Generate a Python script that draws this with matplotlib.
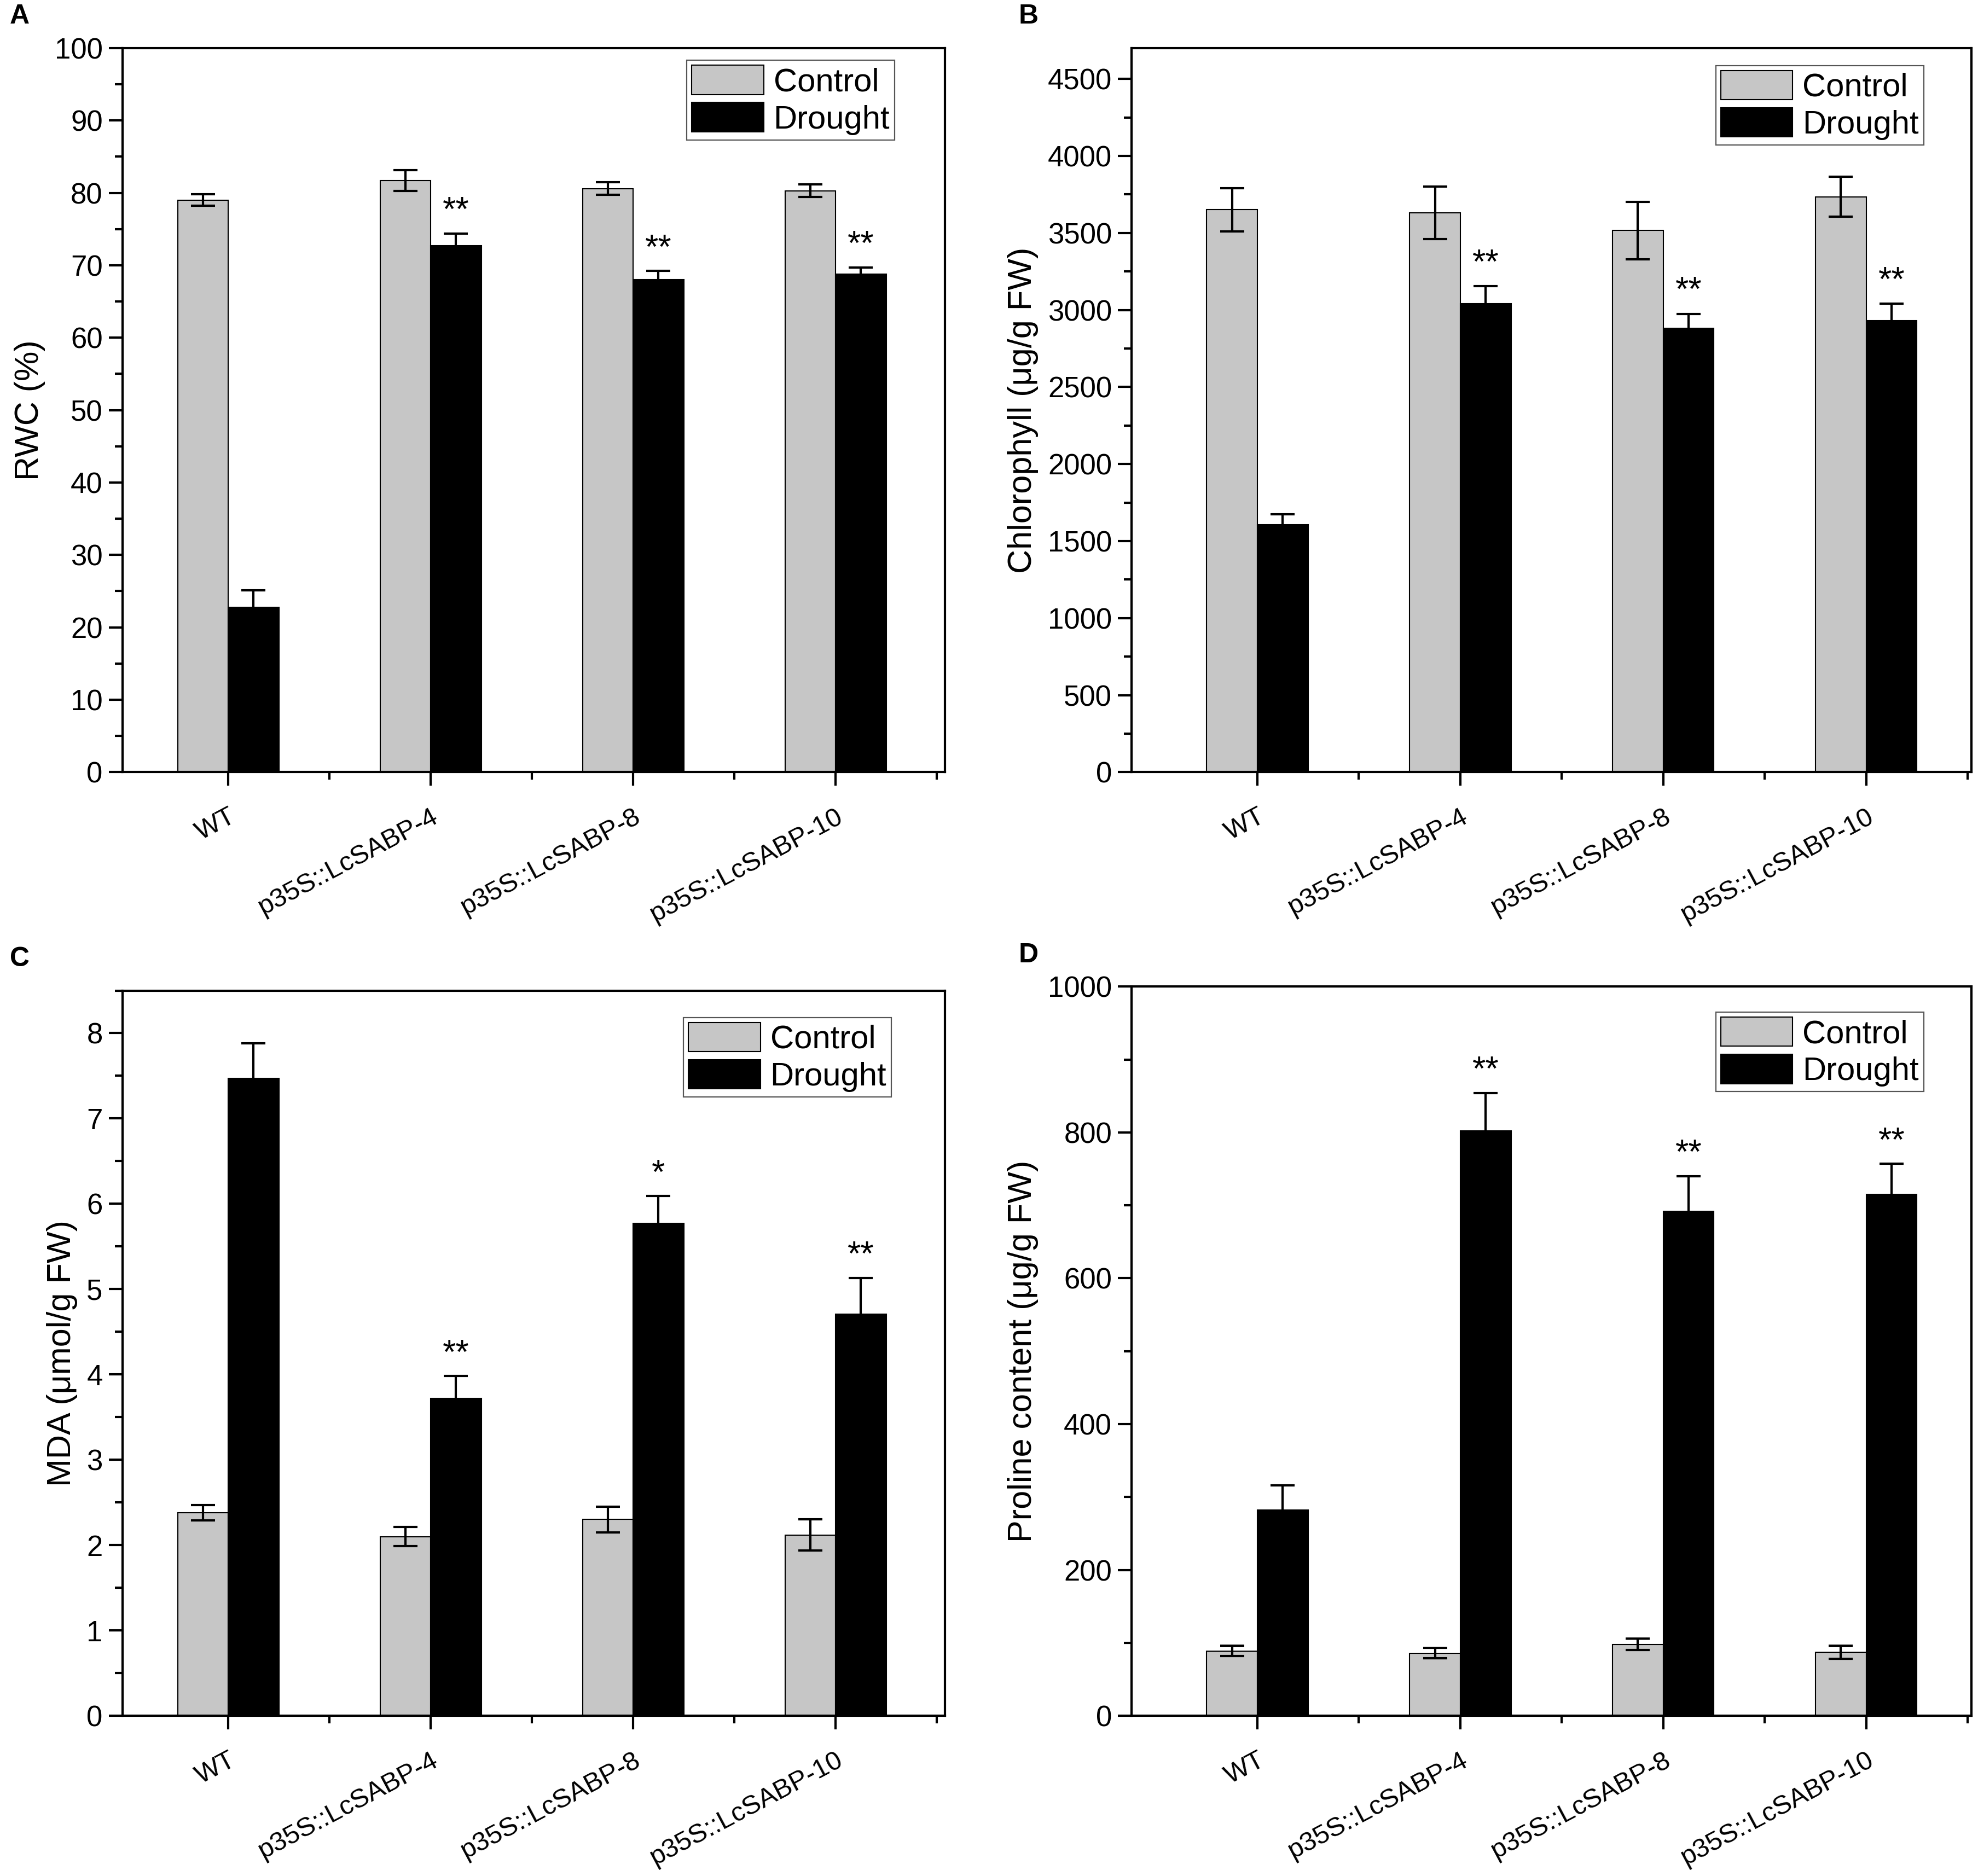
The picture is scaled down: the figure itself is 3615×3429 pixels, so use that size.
import numpy as np
import matplotlib
matplotlib.use("Agg")
import matplotlib.pyplot as plt
from matplotlib.ticker import MultipleLocator

plt.rcParams['font.family'] = ['Liberation Sans', 'DejaVu Sans']

lines = ["WT", "p35S::LcSABP-4", "p35S::LcSABP-8", "p35S::LcSABP-10"]

# A - relative water content
rwc_ctrl = [79.0, 81.7, 80.6, 80.3]
rwc_ctrl_err = [0.8, 1.4, 0.9, 0.9]
rwc_drt = [22.8, 72.7, 68.0, 68.8]
rwc_drt_err = [2.3, 1.7, 1.2, 0.9]
rwc_star = ["", "**", "**", "**"]

# B - chlorophyll
chl_ctrl = [3650, 3630, 3515, 3735]
chl_ctrl_err = [140, 170, 185, 130]
chl_drt = [1605, 3040, 2880, 2930]
chl_drt_err = [70, 115, 95, 110]
chl_star = ["", "**", "**", "**"]

# C - MDA
mda_ctrl = [2.38, 2.10, 2.30, 2.12]
mda_ctrl_err = [0.09, 0.11, 0.15, 0.18]
mda_drt = [7.47, 3.72, 5.77, 4.71]
mda_drt_err = [0.41, 0.26, 0.32, 0.42]
mda_star = ["", "**", "*", "**"]

# D - proline
pro_ctrl = [89, 86, 98, 87]
pro_ctrl_err = [7, 7, 8, 9]
pro_drt = [282, 802, 692, 715]
pro_drt_err = [34, 52, 48, 42]
pro_star = ["", "**", "**", "**"]

fig = plt.figure(figsize=(36.15, 34.29), dpi=100)

panels = [
    ("A", [0.0619, 0.5884, 0.4158, 0.386], (0.477, 4.54), rwc_ctrl, rwc_ctrl_err, rwc_drt, rwc_drt_err,
     rwc_star, "RWC (%)", (0, 100), 10, 5, (0.939, 0.983), 0.8),
    ("B", [0.5721, 0.5884, 0.4247, 0.386], (0.38, 4.52), chl_ctrl, chl_ctrl_err, chl_drt, chl_drt_err,
     chl_star, "Chlorophyll (\u03bcg/g FW)", (0, 4700), 500, 250, (0.943, 0.976), 40),
    ("C", [0.0619, 0.0854, 0.4158, 0.3866], (0.477, 4.54), mda_ctrl, mda_ctrl_err, mda_drt, mda_drt_err,
     mda_star, "MDA (\u03bcmol/g FW)", (0, 8.5), 1, 0.5, (0.935, 0.963), 0.07),
    ("D", [0.5721, 0.0854, 0.4247, 0.3887], (0.38, 4.52), pro_ctrl, pro_ctrl_err, pro_drt, pro_drt_err,
     pro_star, "Proline content (\u03bcg/g FW)", (0, 1000), 200, 100, (0.943, 0.965), 8),
]

x = np.arange(1, len(lines) + 1)
w = 0.25

for tag, rect, xlim, c, ce, d, de, stars, ylab, ylim, major, minor, leg_at, off in panels:
    ax = fig.add_axes(rect)
    ax.bar(x - w / 2, c, w, color="#c6c6c6", edgecolor="black", linewidth=1.5,
           label="Control", zorder=2)
    ax.bar(x + w / 2, d, w, color="black", edgecolor="black", linewidth=1.5,
           label="Drought", zorder=2)
    ax.errorbar(x - w / 2, c, yerr=ce, fmt="none", ecolor="black", elinewidth=3,
                capsize=16, capthick=3, zorder=3)
    ax.errorbar(x + w / 2, d, yerr=de, fmt="none", ecolor="black", elinewidth=3,
                capsize=16, capthick=3, zorder=1)
    for xi, yi, ei, s in zip(x + w / 2, d, de, stars):
        if s:
            ax.text(xi, yi + ei + off, s, ha="center", va="bottom", fontsize=45)

    ax.set_xlim(*xlim)
    ax.set_ylim(*ylim)
    ax.set_xticks(x)
    ax.set_xticklabels(lines, rotation=28, ha="right", rotation_mode="anchor",
                       fontsize=35)
    ax.set_xticks([1.5, 2.5, 3.5, 4.5], minor=True)
    ax.yaxis.set_major_locator(MultipleLocator(major))
    ax.yaxis.set_minor_locator(MultipleLocator(minor))
    ax.tick_params(axis="both", which="major", direction="out", length=18, width=3, pad=8)
    ax.tick_params(axis="y", which="major", labelsize=38)
    ax.tick_params(axis="both", which="minor", direction="out", length=10, width=3)
    ax.tick_params(axis="x", which="major", pad=24)
    for sp in ax.spines.values():
        sp.set_linewidth(3)
    ax.set_ylabel(ylab, fontsize=44, labelpad=12)

    leg = ax.legend(loc="upper right", bbox_to_anchor=leg_at, fontsize=43,
                    fancybox=False, edgecolor="#555555", framealpha=1,
                    handlelength=2.2, handleheight=1.0, handletextpad=0.3,
                    labelspacing=0.15, borderpad=0.15, borderaxespad=0)
    leg.get_frame().set_linewidth(1.6)

    fig.text(rect[0] - 0.057, rect[1] + rect[3] + 0.01, tag, fontsize=36,
             fontweight="bold", va="bottom", ha="left")

fig.savefig("out.png", dpi=100)
